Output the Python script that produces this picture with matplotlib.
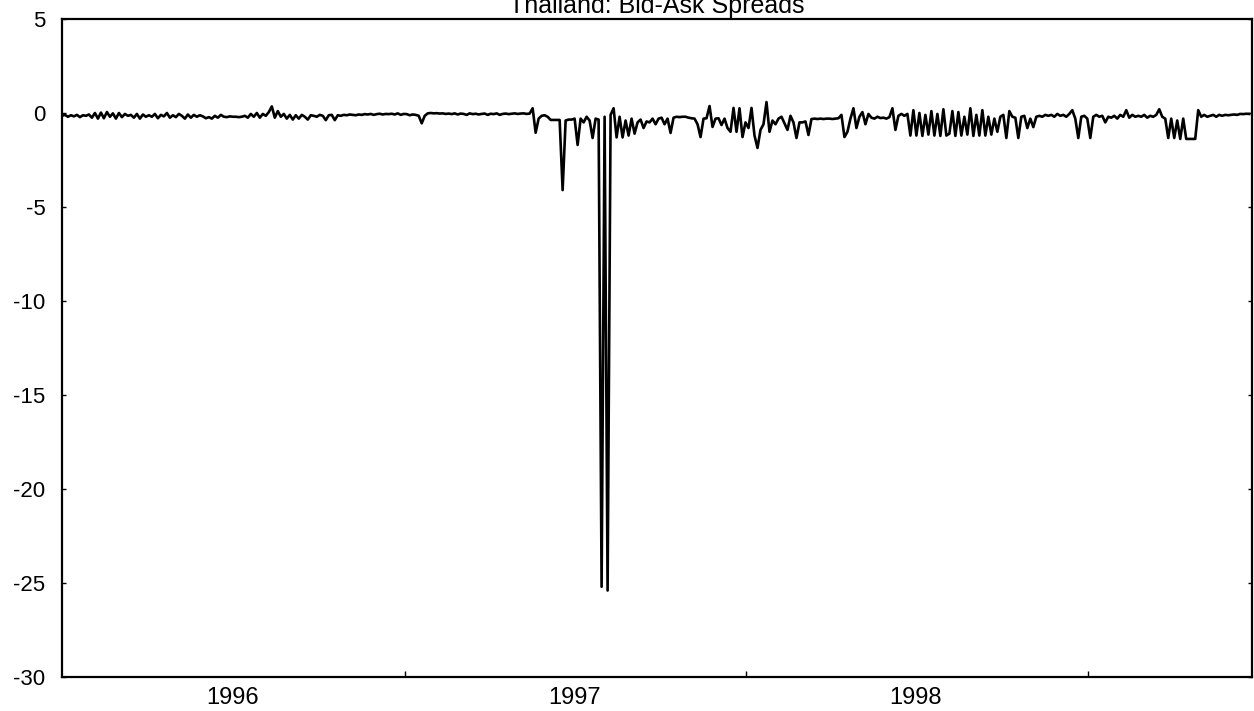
## Thailand bid-ask spreads chart
import pandas as pd
import numpy as np
import matplotlib
matplotlib.use("Agg")
import matplotlib.pyplot as plt
import matplotlib.dates as mdates

plt.rcParams["font.family"] = ["Liberation Sans", "DejaVu Sans"]
plt.rcParams["axes.unicode_minus"] = False

# Data (roughly every 2-3 trading days)
start_date = "1996-01-01"
end_date = "1999-06-22"

spread = [
    -0.15, -0.1, -0.2, -0.12, -0.18, -0.1, -0.22, -0.12, -0.15, -0.08,
    -0.25, 0.0, -0.3, 0.02, -0.28, 0.05, -0.2, -0.02, -0.3, 0.0,
    -0.22, -0.05, -0.15, -0.1, -0.25, -0.05, -0.3, -0.08, -0.2, -0.12,
    -0.2, -0.05, -0.28, -0.1, -0.18, 0.0, -0.25, -0.12, -0.22, -0.05,
    -0.15, -0.3, -0.08, -0.25, -0.1, -0.2, -0.12, -0.18, -0.28, -0.22,
    -0.3, -0.15, -0.25, -0.1, -0.2, -0.22, -0.18, -0.2, -0.2, -0.22,
    -0.2, -0.15, -0.25, -0.05, -0.2, 0.0, -0.25, -0.05, -0.15, 0.05,
    0.35, -0.25, 0.1, -0.2, -0.05, -0.3, -0.1, -0.35, -0.12, -0.3,
    -0.1, -0.2, -0.35, -0.12, -0.15, -0.2, -0.1, -0.15, -0.38, -0.12,
    -0.1, -0.38, -0.12, -0.15, -0.1, -0.12, -0.08, -0.1, -0.12, -0.08,
    -0.1, -0.06, -0.08, -0.05, -0.1, -0.06, -0.04, -0.08, -0.05, -0.06,
    -0.04, -0.08, -0.02, -0.1, -0.05, -0.06, -0.12, -0.08, -0.1, -0.15,
    -0.55, -0.15, -0.02, 0.0, -0.02, -0.01, -0.03, -0.02, -0.05, -0.03,
    -0.06, -0.02, -0.08, -0.03, -0.05, -0.1, -0.02, -0.06, -0.04, -0.08,
    -0.05, -0.03, -0.1, -0.04, -0.06, -0.02, -0.1, -0.05, -0.03, -0.06,
    -0.04, -0.02, -0.05, -0.03, -0.02, -0.05, -0.03, 0.25, -1.05, -0.3,
    -0.15, -0.12, -0.2, -0.37, -0.37, -0.37, -0.37, -4.1, -0.4, -0.35,
    -0.35, -0.3, -1.7, -0.3, -0.5, -0.2, -0.4, -1.33, -0.3, -0.35,
    -25.2, -0.2, -25.4, -0.1, 0.25, -1.3, -0.2, -1.3, -0.4, -1.2,
    -0.3, -1.1, -0.5, -0.35, -0.8, -0.45, -0.5, -0.3, -0.6, -0.3,
    -0.25, -0.6, -0.3, -1.06, -0.25, -0.2, -0.22, -0.2, -0.2, -0.25,
    -0.28, -0.3, -0.6, -1.28, -0.3, -0.28, 0.37, -0.74, -0.3, -0.28,
    -0.64, -0.3, -0.8, -1.0, 0.27, -1.0, 0.25, -1.28, -0.5, -0.8,
    0.27, -1.2, -1.86, -0.9, -0.6, 0.58, -1.0, -0.4, -0.6, -0.3,
    -0.2, -0.55, -0.9, -0.15, -0.5, -1.33, -0.5, -0.5, -0.45, -1.17,
    -0.32, -0.3, -0.32, -0.3, -0.32, -0.3, -0.3, -0.32, -0.3, -0.28,
    -0.1, -1.28, -1.0, -0.3, 0.25, -0.8, -0.2, 0.05, -0.6, -0.05,
    -0.25, -0.3, -0.2, -0.27, -0.25, -0.3, -0.22, 0.25, -0.9, -0.15,
    -0.05, -0.15, -0.05, -1.2, 0.15, -1.2, 0.0, -1.22, -0.1, -1.15,
    0.1, -1.2, -0.05, -1.22, 0.2, -1.2, -1.1, 0.1, -1.22, 0.05,
    -1.2, -0.2, -1.15, 0.25, -1.22, -0.1, -1.2, 0.15, -1.2, -0.2,
    -1.15, -0.3, -1.0, -0.2, -0.1, -1.33, 0.1, -0.2, -0.25, -1.33,
    -0.2, -0.15, -0.8, -0.3, -0.75, -0.2, -0.15, -0.2, -0.1, -0.15,
    -0.1, -0.2, -0.05, -0.15, -0.1, -0.2, -0.05, 0.15, -0.3, -1.33,
    -0.2, -0.15, -0.3, -1.33, -0.2, -0.1, -0.2, -0.15, -0.5, -0.2,
    -0.25, -0.15, -0.3, -0.1, -0.2, 0.15, -0.25, -0.1, -0.2, -0.15,
    -0.2, -0.1, -0.25, -0.15, -0.2, -0.1, 0.2, -0.2, -0.3, -1.33,
    -0.3, -1.33, -0.4, -1.38, -0.3, -1.38, -1.38, -1.38, -1.38, 0.15,
    -0.2, -0.1, -0.2, -0.15, -0.1, -0.2, -0.1, -0.15, -0.1, -0.12,
    -0.1, -0.08, -0.1, -0.05, -0.06, -0.04, -0.05,
]

year_labels = ["1996", "1997", "1998"]
y_ticks = [5, 0, -5, -10, -15, -20, -25, -30]

dates = pd.date_range(start_date, end_date, periods=len(spread))
thai = pd.Series(spread, index=dates)

# Plot
fig = plt.figure(figsize=(12.54, 7.11), dpi=100)
ax = fig.add_subplot(111)
fig.subplots_adjust(left=0.0494, right=0.9984, top=0.9733, bottom=0.0478)

ax.plot(thai.index, thai.values, color="black", linewidth=1.9)

ax.set_xlim(pd.Timestamp("1996-01-01"), pd.Timestamp("1999-06-25"))
ax.set_ylim(-30, 5)

# year boundaries get the tick marks, labels sit mid-year
ax.set_xticks([pd.Timestamp(f"{y}-01-01") for y in (1997, 1998, 1999)])
ax.set_xticklabels([])
ax.set_xticks([pd.Timestamp(f"{y}-07-01") for y in year_labels], minor=True)
ax.set_xticklabels(year_labels, minor=True)
ax.tick_params(axis="x", which="major", direction="in", length=4, width=1, top=False)
ax.tick_params(axis="x", which="minor", length=0, pad=7, labelsize=17)

ax.set_yticks(y_ticks)
ax.set_yticklabels([str(v) for v in y_ticks])
ax.tick_params(axis="y", direction="in", length=3, width=1, right=True, pad=12, labelsize=16)

for side in ax.spines.values():
    side.set_linewidth(1.6)

ax.set_title("Thailand: Bid-Ask Spreads", fontsize=18, pad=4)

fig.savefig("out.png", dpi=100)
